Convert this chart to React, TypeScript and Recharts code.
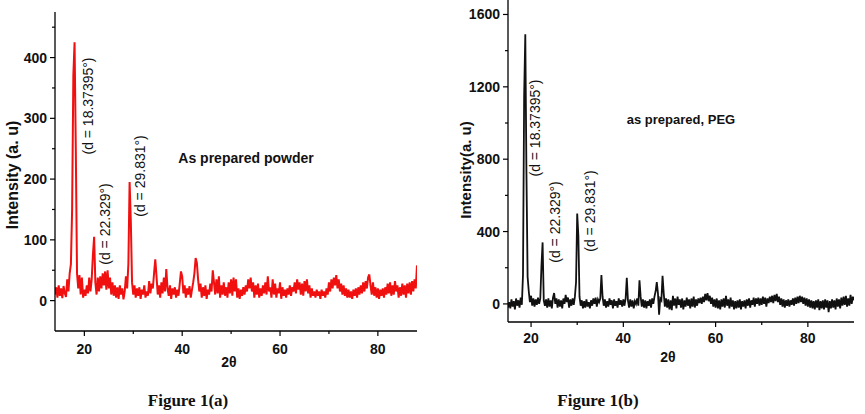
import { Line, LineChart, XAxis, YAxis } from "recharts";

// 2θ grid: values are read every 0.25°
const STEP = 0.25;

// Figure 1(a) — as prepared powder, 2θ from 14° to 88°
const POWDER_START = 14;
const POWDER = [
  10, 22, 5, 25, 8, 20, 4, 24, 12, 6, 35, 15, 45, 60, 150, 370, 425, 250, 45, 20,
  42, 10, 38, 5, 18, 8, 25, 12, 38, 15, 35, 75, 105, 30, 10, 38, 15, 40, 20, 45,
  25, 48, 18, 50, 20, 38, 10, 30, 8, 25, 5, 22, 3, 25, 10, 20, 2, 15, 40, 20,
  60, 195, 130, 30, 10, 25, 5, 20, 8, 22, 3, 18, 10, 25, 5, 15, 8, 32, 12, 28,
  20, 45, 68, 40, 10, 25, 5, 30, 12, 38, 15, 52, 20, 8, 25, 3, 20, 10, 22, 5,
  18, 8, 28, 48, 40, 12, 25, 5, 20, 10, 24, 5, 18, 30, 45, 70, 62, 35, 15, 28,
  5, 22, 8, 25, 3, 18, 10, 28, 15, 50, 30, 10, 35, 12, 40, 5, 25, 10, 30, 8,
  22, 5, 30, 12, 35, 8, 38, 15, 35, 5, 20, 3, 18, 8, 22, 10, 25, 15, 35, 20,
  38, 15, 30, 5, 25, 10, 28, 5, 20, 8, 25, 12, 30, 10, 40, 15, 22, 5, 35, 10,
  28, 5, 20, 12, 30, 3, 22, 8, 18, 5, 20, 10, 25, 8, 22, 15, 30, 12, 35, 18,
  30, 10, 28, 8, 32, 15, 35, 12, 25, 5, 20, 8, 15, 5, 18, 8, 15, 3, 18, 8,
  15, 5, 20, 10, 30, 15, 35, 20, 38, 25, 42, 20, 35, 15, 28, 10, 25, 8, 20, 5,
  18, 5, 15, 3, 18, 8, 20, 5, 22, 10, 25, 12, 30, 15, 32, 20, 38, 43, 25, 10,
  30, 8, 22, 5, 20, 3, 18, 8, 20, 5, 22, 10, 28, 12, 30, 8, 25, 10, 32, 15,
  25, 5, 22, 8, 28, 10, 25, 5, 28, 12, 30, 10, 32, 15, 35, 20, 58,
];

// Figure 1(b) — as prepared, PEG, 2θ from 15° to 90°
const PEG_START = 15;
const PEG = [
  -20, 10, -25, 25, -15, 15, -30, 30, -10, 20, -20, 35, -5, 160, 1150, 1490, 720, 150, 70, 10,
  45, -10, 30, -15, 25, -5, 35, 0, 30, 210, 340, 20, -10, 25, -20, 30, -15, 20, -25, 35,
  60, 0, 30, -20, 25, -15, 20, -25, 30, 0, 50, 10, 35, -20, 25, -10, 30, -5, 40, 120,
  500, 380, 40, -10, 20, -25, 15, -20, 25, -15, 10, -25, 20, -10, 30, 0, 35, -15, 25, 10,
  30, 160, 40, -10, 25, -20, 15, -15, 30, -5, 20, -25, 25, -10, 15, -20, 30, -5, 20, -15,
  25, -10, 30, 145, 20, -20, 25, -15, 20, -25, 15, 0, 30, -10, 130, 40, -15, 25, -20, 20,
  -25, 15, -10, 25, -20, 30, 0, 40, 70, 120, 60, -60, 30, 20, 155, 60, -15, 30, -20, 25,
  -30, 20, -35, 45, -10, 30, -25, 40, -5, 25, -20, 30, -30, 20, -15, 35, -10, 25, -25, 30,
  -15, 40, -20, 25, -10, 30, 5, 35, 0, 40, 10, 55, 20, 60, 15, 45, 0, 35, -15, 25,
  -20, 30, -25, 20, -30, 25, -15, 30, -20, 45, -10, 25, -25, 35, -15, 20, -30, 15, -25, 20,
  -20, 25, -30, 15, -15, 20, -25, 25, -10, 30, -20, 20, -5, 35, -15, 30, 0, 35, -10, 30,
  -5, 40, 0, 35, -15, 30, 5, 40, 10, 45, 5, 50, 15, 55, 10, 40, -5, 30, -15, 25,
  -20, 20, -10, 25, -15, 20, -5, 30, -10, 35, 0, 40, 5, 45, 10, 40, 0, 35, -10, 30,
  -15, 25, -20, 20, -25, 15, -30, 20, -20, 25, -35, 15, -25, 20, -30, 25, -20, 20, -45, 15,
  -25, 25, -20, 20, -30, 30, -15, 25, -25, 35, -10, 40, -5, 45, -15, 30, -10, 50, 0, 40,
  20,
];

const POWDER_Y_TICKS = [0, 50, 100, 150, 200, 250, 300, 350, 400, 450];
const PEG_Y_TICKS = [0, 200, 400, 600, 800, 1000, 1200, 1400, 1600];
const X_TICKS = [20, 30, 40, 50, 60, 70, 80];

const powderRows = POWDER.map((v, i) => ({ t: POWDER_START + i * STEP, v }));
const pegRows = PEG.map((v, i) => ({ t: PEG_START + i * STEP, v }));

const SANS = '"Liberation Sans", Arial, sans-serif';
const TICK_SIZE = 5;
const TICK_MARGIN = 3;

function YTick(props: any) {
  const { x, y, payload, every, labelGap } = props;
  const ax = x + TICK_SIZE + TICK_MARGIN;
  const major = payload.value % every === 0;
  return (
    <g>
      <line x1={ax} x2={ax - (major ? 5 : 3)} y1={y} y2={y} stroke="#000" strokeWidth={1.2} />
      {major && (
        <text
          x={ax - labelGap}
          y={y}
          textAnchor="end"
          dominantBaseline="central"
          fontFamily={SANS}
          fontWeight="bold"
          fontSize={14}
          fill="#111"
        >
          {payload.value}
        </text>
      )}
    </g>
  );
}

function XTick(props: any) {
  const { x, y, payload, labelGap } = props;
  const ay = y - TICK_SIZE - TICK_MARGIN;
  const major = payload.value % 20 === 0;
  return (
    <g>
      <line x1={x} x2={x} y1={ay} y2={ay + (major ? 5 : 3)} stroke="#000" strokeWidth={1.2} />
      {major && (
        <text
          x={x}
          y={ay + labelGap}
          textAnchor="middle"
          dominantBaseline="central"
          fontFamily={SANS}
          fontWeight="bold"
          fontSize={14}
          fill="#111"
        >
          {payload.value}
        </text>
      )}
    </g>
  );
}

function Rot({ x, y, size, bold, children }: any) {
  return (
    <text
      transform={`translate(${x},${y}) rotate(-90)`}
      textAnchor="middle"
      dominantBaseline="central"
      fontFamily={SANS}
      fontWeight={bold ? "bold" : "normal"}
      fontSize={size}
      fill="#111"
    >
      {children}
    </text>
  );
}

function Txt({ x, y, size, serif, children }: any) {
  return (
    <text
      x={x}
      y={y}
      textAnchor="middle"
      dominantBaseline="central"
      fontFamily={serif ? '"Liberation Serif", "Times New Roman", serif' : SANS}
      fontWeight="bold"
      fontSize={size}
      fill="#111"
    >
      {children}
    </text>
  );
}

export default function App() {
  return (
    <div
      style={{ position: "absolute", left: 0, top: 0, width: 865, height: 414, background: "#fff" }}
    >
      <div style={{ position: "absolute", left: 0, top: 0 }}>
        <LineChart
          width={430}
          height={414}
          data={powderRows}
          margin={{ top: 12, right: 13, bottom: 53, left: 10 }}
        >
          <XAxis
            dataKey="t"
            type="number"
            domain={[14, 88]}
            ticks={X_TICKS}
            allowDataOverflow
            height={30}
            tickSize={TICK_SIZE}
            tickMargin={TICK_MARGIN}
            tickLine={false}
            axisLine={{ stroke: "#000", strokeWidth: 1.3 }}
            tick={<XTick labelGap={18} />}
          />
          <YAxis
            type="number"
            domain={[-50, 475]}
            ticks={POWDER_Y_TICKS}
            allowDataOverflow
            width={45}
            tickSize={TICK_SIZE}
            tickMargin={TICK_MARGIN}
            tickLine={false}
            axisLine={{ stroke: "#000", strokeWidth: 1.3 }}
            tick={<YTick every={100} labelGap={8} />}
          />
          <Line
            type="linear"
            dataKey="v"
            stroke="#f01010"
            strokeWidth={2}
            dot={false}
            isAnimationActive={false}
          />
        </LineChart>
      </div>

      <div style={{ position: "absolute", left: 435, top: 0 }}>
        <LineChart
          width={430}
          height={414}
          data={pegRows}
          margin={{ top: 0, right: 11, bottom: 62, left: 28 }}
        >
          <XAxis
            dataKey="t"
            type="number"
            domain={[15, 90]}
            ticks={X_TICKS}
            allowDataOverflow
            height={30}
            tickSize={TICK_SIZE}
            tickMargin={TICK_MARGIN}
            tickLine={false}
            axisLine={{ stroke: "#000", strokeWidth: 1.3 }}
            tick={<XTick labelGap={16} />}
          />
          <YAxis
            type="number"
            domain={[-100, 1680]}
            ticks={PEG_Y_TICKS}
            allowDataOverflow
            width={45}
            tickSize={TICK_SIZE}
            tickMargin={TICK_MARGIN}
            tickLine={false}
            axisLine={{ stroke: "#000", strokeWidth: 1.3 }}
            tick={<YTick every={400} labelGap={8} />}
          />
          <Line
            type="linear"
            dataKey="v"
            stroke="#111"
            strokeWidth={1.8}
            dot={false}
            isAnimationActive={false}
          />
        </LineChart>
      </div>

      <svg
        width={865}
        height={414}
        style={{ position: "absolute", left: 0, top: 0, pointerEvents: "none" }}
      >
        {/* left panel texts */}
        <Rot x={12} y={175} size={16} bold>Intensity (a. u)</Rot>
        <Rot x={88} y={106} size={14}>(d = 18.37395°)</Rot>
        <Rot x={105} y={224} size={14}>(d = 22.329°)</Rot>
        <Rot x={140} y={176} size={14}>(d = 29.831°)</Rot>
        <Txt x={246} y={158} size={14}>As prepared powder</Txt>
        <Txt x={229} y={362} size={14}>2θ</Txt>
        <Txt x={188} y={400} size={17} serif>Figure 1(a)</Txt>

        {/* right panel texts */}
        <Rot x={465} y={170} size={15} bold>Intensity(a. u)</Rot>
        <Rot x={535} y={128} size={14}>(d = 18.37395°)</Rot>
        <Rot x={555} y={222} size={14}>(d = 22.329°)</Rot>
        <Rot x={590} y={211} size={14}>(d = 29.831°)</Rot>
        <Txt x={681} y={119} size={13}>as prepared, PEG</Txt>
        <Txt x={668} y={357} size={14}>2θ</Txt>
        <Txt x={598} y={400} size={17} serif>Figure 1(b)</Txt>
      </svg>
    </div>
  );
}
